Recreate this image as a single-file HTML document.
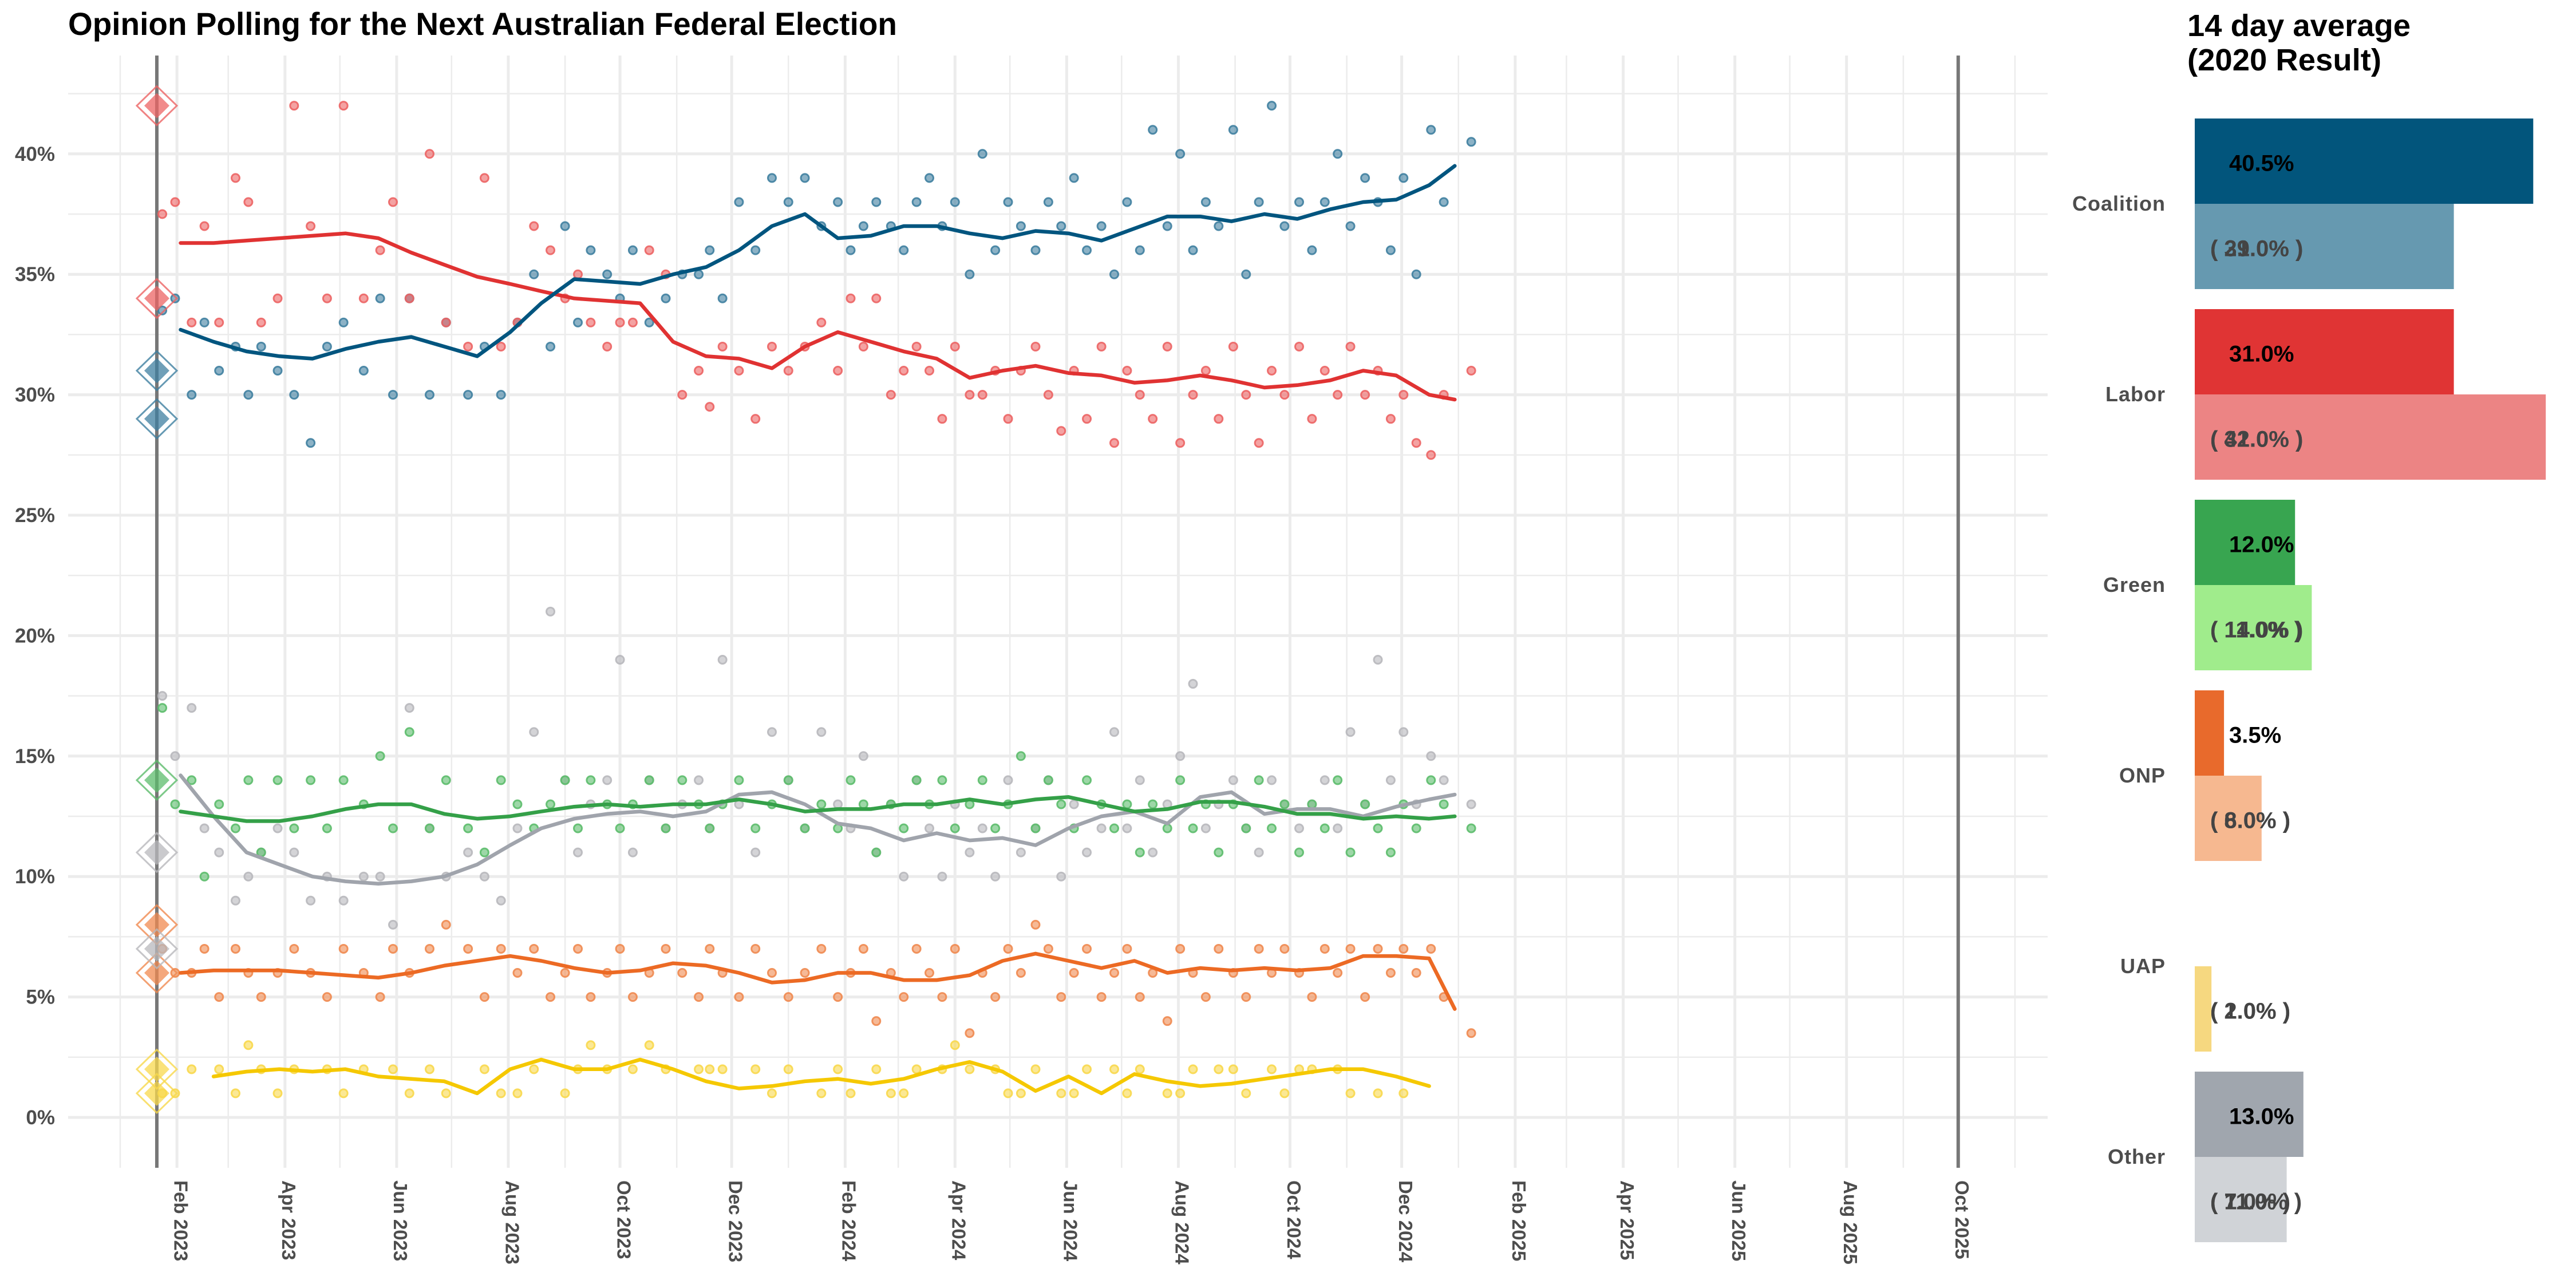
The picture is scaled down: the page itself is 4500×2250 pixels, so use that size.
<!DOCTYPE html>
<html><head><meta charset="utf-8"><style>
html,body{margin:0;padding:0;background:#fff;}
svg{display:block;font-family:"Liberation Sans",sans-serif;}
</style></head><body>
<svg id="chart" width="4500" height="2250" viewBox="0 0 4500 2250" xmlns="http://www.w3.org/2000/svg">
<text x="119" y="61" font-size="56" font-weight="bold" fill="#000" textLength="1448" lengthAdjust="spacingAndGlyphs">Opinion Polling for the Next Australian Federal Election</text>
<g id="grid"></g>
<g id="axes"></g>
<g id="dots"></g>
<g id="trends"></g>
<g id="results"></g>
<text x="3821" y="63" font-size="54" font-weight="bold" fill="#000" textLength="390" lengthAdjust="spacingAndGlyphs">14 day average</text>
<text x="3821" y="123" font-size="54" font-weight="bold" fill="#000" textLength="339" lengthAdjust="spacingAndGlyphs">(2020 Result)</text>
<g id="bars"></g>
</svg>
<script>
// ---- main chart data ----
const parties = ["Coalition","Labor","Green","ONP","UAP","Other"];
const trendDay = [33,51,69,87,105,123,141,159,177,195,213,230,248,266,284,302,320,338,356,374,392,410,428,446,464,482,500,518,536,554,572,590,607,625,643,661,679,697,715,729];
const trendCoalition = [32.7,32.2,31.8,31.6,31.5,31.9,32.2,32.4,32.0,31.6,32.6,33.8,34.8,34.7,34.6,35.0,35.3,36.0,37.0,37.5,36.5,36.6,37.0,37.0,36.7,36.5,36.8,36.7,36.4,36.9,37.4,37.4,37.2,37.5,37.3,37.7,38.0,38.1,38.7,39.5];
const trendLabor = [36.3,36.3,36.4,36.5,36.6,36.7,36.5,35.9,35.4,34.9,34.6,34.3,34.0,33.9,33.8,32.2,31.6,31.5,31.1,32.0,32.6,32.2,31.8,31.5,30.7,31.0,31.2,30.9,30.8,30.5,30.6,30.8,30.6,30.3,30.4,30.6,31.0,30.8,30.0,29.8];
const trendGreen = [12.7,12.5,12.3,12.3,12.5,12.8,13.0,13.0,12.6,12.4,12.5,12.7,12.9,13.0,12.9,13.0,13.0,13.2,13.0,12.7,12.8,12.8,13.0,13.0,13.2,13.0,13.2,13.3,13.0,12.7,12.8,13.1,13.1,12.9,12.6,12.6,12.4,12.5,12.4,12.5];
const trendOther = [14.2,12.5,11.0,10.5,10.0,9.8,9.7,9.8,10.0,10.5,11.3,12.0,12.4,12.6,12.7,12.5,12.7,13.4,13.5,13.0,12.2,12.0,11.5,11.8,11.5,11.6,11.3,12.0,12.5,12.7,12.2,13.3,13.5,12.6,12.8,12.8,12.5,12.9,13.2,13.4];
const trendONP = [6.0,6.1,6.1,6.1,6.0,5.9,5.8,6.0,6.3,6.5,6.7,6.5,6.2,6.0,6.1,6.4,6.3,6.0,5.6,5.7,6.0,6.0,5.7,5.7,5.9,6.5,6.8,6.5,6.2,6.5,6.0,6.2,6.1,6.2,6.1,6.2,6.7,6.7,6.6,4.5];
const trendUAP = [null,1.7,1.9,2.0,1.9,2.0,1.7,1.6,1.5,1.0,2.0,2.4,2.0,2.0,2.4,2.0,1.5,1.2,1.3,1.5,1.6,1.4,1.6,2.0,2.3,1.9,1.1,1.7,1.0,1.8,1.5,1.3,1.4,1.6,1.8,2.0,2.0,1.7,1.3,null];

const pollDay = [23,30,39,46,54,63,70,77,86,95,104,113,122,133,142,149,158,169,178,190,199,208,217,226,235,243,250,257,266,273,280,289,298,307,316,322,329,338,347,356,365,374,383,392,399,406,413,421,428,435,442,449,456,464,471,478,485,492,500,507,514,521,528,536,543,550,557,564,572,579,586,593,600,608,615,622,629,636,644,651,658,665,672,680,687,694,701,708,716,723,738];
const pollCoalition = [33.5,34,30,33,31,32,30,32,31,30,28,32,33,31,34,30,34,30,33,30,32,30,33,35,32,37,33,36,35,34,36,33,34,35,35,36,34,38,36,39,38,39,37,38,36,37,38,37,36,38,39,37,38,35,40,36,38,37,36,38,37,39,36,37,35,38,36,41,37,40,36,38,37,41,35,38,42,37,38,36,38,40,37,39,38,36,39,35,41,38,40.5];
const pollLabor = [37.5,38,33,37,33,39,38,33,34,42,37,34,42,34,36,38,34,40,33,32,39,32,33,37,36,34,35,33,32,33,33,36,35,30,31,29.5,32,31,29,32,31,32,33,31,34,32,34,30,31,32,31,29,32,30,30,31,29,31,32,30,28.5,31,29,32,28,31,30,29,32,28,30,31,29,32,30,28,31,30,32,29,31,30,32,30,31,29,30,28,27.5,30,31];
const pollGreen = [17,13,14,10,13,12,14,11,14,12,14,12,14,13,15,12,16,12,14,12,11,14,13,12,13,14,12,14,13,12,13,14,12,14,13,12,13,14,12,13,14,12,13,12,14,13,11,13,12,14,13,14,12,13,14,12,13,15,12,14,13,12,14,13,12,13,11,13,12,14,12,13,11,13,12,14,12,13,11,13,12,14,11,13,12,11,13,12,14,13,12];
const pollOther = [17.5,15,17,12,11,9,10,11,12,11,9,10,9,10,10,8,17,12,10,11,10,9,12,16,21,14,11,13,14,19,11,14,12,13,14,12,19,13,11,16,14,12,16,13,12,15,11,13,10,14,12,10,13,11,12,10,14,11,12,14,10,13,11,12,16,12,14,11,13,15,18,12,13,14,12,11,14,13,12,13,14,12,16,13,19,14,16,13,15,14,13];
const pollONP = [7,6,6,7,5,7,6,5,6,7,6,5,7,6,5,7,6,7,8,7,5,7,6,7,5,6,7,5,6,7,5,6,7,6,5,7,6,5,7,6,5,6,7,5,6,7,4,6,5,7,6,5,7,3.5,6,5,7,6,8,7,5,6,7,5,6,7,5,6,4,7,6,5,7,6,5,7,6,7,6,5,7,6,7,5,7,6,7,6,7,5,3.5];
const pollUAP = [1,1,2,null,2,1,3,2,1,2,null,2,1,2,null,2,1,2,1,null,2,1,1,2,null,1,2,3,2,null,2,3,2,null,2,2,2,null,2,1,2,null,1,2,1,null,2,1,1,2,null,2,3,2,null,2,1,1,2,null,1,1,2,null,2,1,2,null,1,1,2,null,2,2,1,null,2,1,2,2,null,2,1,null,1,null,1,null,null,null,null];

const resultValues = [42,34,31,29,14,11,8,6,7,2,1];
const resultParty = ["Labor","Labor","Coalition","Coalition","Green","Other","ONP","ONP","Other","UAP","UAP"];
const yTicks = [0,5,10,15,20,25,30,35,40];
const yTickLabels = ["0%","5%","10%","15%","20%","25%","30%","35%","40%"];

// ---- bar panel data ----
const barCurrent = [40.5,31.0,12.0,3.5,0,13.0];
const barPrior = [31,42,14,8,2,11];
const barCurrentLabels = ["40.5%","31.0%","12.0%","3.5%","","13.0%"];
const barPriorLabelsA = ["( 29.0% )","( 32.0% )","( 14.0% )","( 6.0% )","( 1.0% )","( 11.0% )"];
const barPriorLabelsB = ["( 31.0% )","( 41.0% )","( 11.0% )","( 8.0% )","( 2.0% )","( 7.0% )"];

const lineCol = {Coalition:"#00557f",Labor:"#e03232",Green:"#34a048",ONP:"#ec6a24",UAP:"#f5c800",Other:"#a0a4ac"};
const dotCol = {Coalition:"#3f7fa0",Labor:"#ec6464",Green:"#5cbc6c",ONP:"#f08a50",UAP:"#f8d84c",Other:"#b8b8bc"};
const barColCur = {Coalition:"#02557c",Labor:"#e03434",Green:"#38a550",ONP:"#e86a2c",UAP:"#f0c000",Other:"#a0a6ae"};
const barColPri = {Coalition:"#6699b0",Labor:"#ec8484",Green:"#a0ec8c",ONP:"#f6b890",UAP:"#f6d880",Other:"#d0d3d7"};

const NS="http://www.w3.org/2000/svg";
const X0=210, PXDAY=3.198, Y0=1952, PXPCT=42.08;
const xScale = d => X0 + d*PXDAY;
const yScale = v => Y0 - v*PXPCT;
function mk(tag, attrs, parent){const e=document.createElementNS(NS,tag);for(const k in attrs)e.setAttribute(k,attrs[k]);parent.appendChild(e);return e;}

const grid=document.getElementById('grid'), axes=document.getElementById('axes');
for(let v=0; v<=42.5; v+=2.5){
  const major = (v%5===0);
  const l=mk('line',{x1:119,x2:3577,y1:yScale(v),y2:yScale(v),stroke:"#ececec","stroke-width":major?5:2.5},grid);
  
  
}
const base=Date.UTC(2023,0,1);
const monNames=["Jan","Feb","Mar","Apr","May","Jun","Jul","Aug","Sep","Oct","Nov","Dec"];
for(let m=0;m<35;m++){
  const yr=2023+Math.floor(m/12), mo=m%12;
  const d=(Date.UTC(yr,mo,1)-base)/86400000;
  const x=xScale(d);
  const major = (mo%2===1);
  const l=mk('line',{x1:x,x2:x,y1:97,y2:2040,stroke:"#ececec","stroke-width":major?5:2.5},grid);
  
  
  if(major){
    const t=mk('text',{x:0,y:0,transform:`translate(${x+4},2062) rotate(90)`,"font-size":33,"font-weight":"bold",fill:"#4d4d4d","dominant-baseline":"middle"},axes);
    t.textContent=monNames[mo]+" "+yr;
    
    
  }
}
yTicks.forEach((v,i)=>{
  const t=mk('text',{x:96,y:yScale(v)+12,"font-size":35,"font-weight":"bold",fill:"#4d4d4d","text-anchor":"end"},axes);
  t.textContent=yTickLabels[i];
  
  
});
[[20,"election-line-2022"],[1004,"election-line-2025"]].forEach(([d,n])=>{
  const l=mk('line',{x1:xScale(d),x2:xScale(d),y1:97,y2:2040,stroke:"#777","stroke-width":6},axes);
  
  
});

const dots=document.getElementById('dots');
const pollSeries={Coalition:pollCoalition,Labor:pollLabor,Green:pollGreen,ONP:pollONP,UAP:pollUAP,Other:pollOther};
["Other","UAP","ONP","Green","Coalition","Labor"].forEach(p=>{
  const vals=pollSeries[p];
  for(let i=0;i<Math.min(vals.length,pollDay.length);i++){
    if(vals[i]==null) continue;
    const c=mk('circle',{cx:xScale(pollDay[i]),cy:yScale(vals[i]),r:7,fill:dotCol[p],"fill-opacity":0.6,stroke:dotCol[p],"stroke-width":3,"stroke-opacity":0.9},dots);
    
    
  }
});

const trends=document.getElementById('trends');
const trendSeries={Other:trendOther,UAP:trendUAP,ONP:trendONP,Green:trendGreen,Labor:trendLabor,Coalition:trendCoalition};
Object.keys(trendSeries).forEach(p=>{
  const vals=trendSeries[p]; let pts=[];
  for(let i=0;i<Math.min(vals.length,trendDay.length);i++){
    if(vals[i]==null) continue;
    pts.push(xScale(trendDay[i]).toFixed(1)+","+yScale(vals[i]).toFixed(1));
  }
  const pl=mk('polyline',{points:pts.join(" "),fill:"none",stroke:lineCol[p],"stroke-width":6.5,"stroke-linejoin":"round","stroke-linecap":"round"},trends);
  
  
});

const results=document.getElementById('results');
resultValues.forEach((v,i)=>{
  const cx=xScale(20), cy=yScale(v), col=dotCol[resultParty[i]];
  const g=mk('g',{},results);
  
  
  mk('polygon',{points:`${cx},${cy-34} ${cx+35},${cy} ${cx},${cy+34} ${cx-35},${cy}`,fill:"none",stroke:col,"stroke-width":3,"stroke-opacity":0.8},g);
  mk('polygon',{points:`${cx},${cy-22} ${cx+22},${cy} ${cx},${cy+22} ${cx-22},${cy}`,fill:col,"fill-opacity":0.75},g);
});

const bars=document.getElementById('bars');
const BX=3834, BPX=14.6, GTOP=207, GPITCH=333, BH=149;
parties.forEach((p,i)=>{
  const top=GTOP+i*GPITCH;
  const lab=mk('text',{x:3783,y:top+BH+12,"font-size":36,"font-weight":"bold",fill:"#4d4d4d","text-anchor":"end","letter-spacing":"1"},bars);
  lab.textContent=p;
  
  
  if(barCurrent[i]>0){
    const r=mk('rect',{x:BX,y:top,width:barCurrent[i]*BPX,height:BH,fill:barColCur[p]},bars);
    
    
    const t=mk('text',{x:3894,y:top+BH/2+17,"font-size":40,"font-weight":"bold",fill:"#000"},bars);
    t.textContent=barCurrentLabels[i];
    
    
  }
  const r2=mk('rect',{x:BX,y:top+BH,width:barPrior[i]*BPX,height:BH,fill:barColPri[p]},bars);
  
  
  [barPriorLabelsA[i],barPriorLabelsB[i]].forEach(s=>{
    const t=mk('text',{x:3861,y:top+BH*1.5+17,"font-size":40,"font-weight":"bold",fill:"#444"},bars);
    t.textContent=s;
    
    
  });
});
</script>
</body></html>
